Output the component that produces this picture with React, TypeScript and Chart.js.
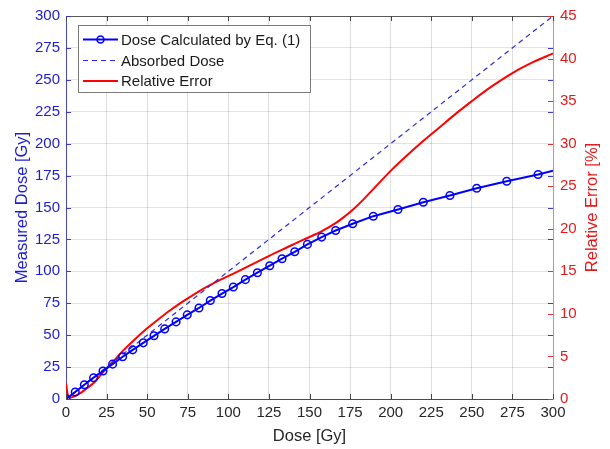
import React, { useEffect, useRef } from "react";
import { Chart, registerables } from "chart.js";

Chart.register(...registerables);

// Blue series: Dose calculated by Eq. (1)
const calcDoseX = [0, 5.7, 11.3, 17, 22.8, 28.7, 34.9, 41.1, 47.6, 54.2, 60.8, 67.8, 74.7, 81.9, 88.9, 96.1, 103.1, 110.5, 117.9, 125.5, 133.1, 140.9, 148.7, 157.5, 166.1, 176.6, 189.3, 204.5, 220.1, 236.5, 253, 271.5, 290.8, 300];
const calcDoseY = [0, 5.5, 11.2, 16.7, 21.9, 27.3, 33.1, 38.5, 44, 49.5, 54.9, 60.4, 65.9, 71.3, 77.1, 82.6, 87.7, 93.5, 98.9, 104.4, 109.9, 115.3, 121.1, 126.8, 132, 137.3, 143.2, 148.4, 154.1, 159.4, 165.1, 170.6, 175.8, 178.8];
const calcMarker = [1, 1, 1, 1, 1, 1, 1, 1, 1, 1, 1, 1, 1, 1, 1, 1, 1, 1, 1, 1, 1, 1, 1, 1, 1, 1, 1, 1, 1, 1, 1, 1, 1, 0];

// Dashed series: Absorbed dose
const absorbedX = [0, 300];
const absorbedY = [0, 300];

// Red series: Relative error [%]
const errX = [0, 1, 2.5, 5, 8.6, 12.5, 16.8, 23, 29, 35, 41.5, 50, 57.5, 64, 74, 84.5, 95, 105, 115, 125.5, 136, 146, 156.5, 166.8, 172, 177, 183, 190, 200, 210, 220, 230, 240, 250, 262, 275, 288, 300];
const errY = [1.9, 0.6, 0.15, 0.3, 0.67, 1.2, 1.84, 3.2, 4.4, 5.65, 6.85, 8.3, 9.45, 10.4, 11.7, 12.95, 14.0, 14.9, 15.85, 16.85, 17.8, 18.7, 19.6, 20.75, 21.5, 22.3, 23.4, 24.8, 26.8, 28.6, 30.3, 31.9, 33.5, 35.0, 36.7, 38.3, 39.6, 40.6];

const legendLabels = ["Dose Calculated by Eq. (1)", "Absorbed Dose", "Relative Error"];
const rightTitle = "Relative Error [%]";

const BLUE = "#0000ff";
const BLUE_TXT = "#1c1cd4";
const RED = "#ff0000";
const RED_TXT = "#e31a1a";
const FONT = "'Liberation Sans', Arial, sans-serif";

const boxPlugin = {
  id: "boxPlugin",
  afterDraw(chart: any) {
    const { ctx, chartArea: a, scales } = chart;
    const x = scales.x, y = scales.y, y1 = scales.y1;
    ctx.save();
    ctx.lineWidth = 1;
    ctx.strokeStyle = "#5a5a5a";
    ctx.beginPath();
    ctx.moveTo(a.left, a.top + 0.5);
    ctx.lineTo(a.right, a.top + 0.5);
    ctx.stroke();
    const tl = 5;
    x.ticks.forEach((t: any) => {
      const px = Math.round(x.getPixelForValue(t.value)) + 0.5;
      ctx.strokeStyle = "#444";
      ctx.beginPath();
      ctx.moveTo(px, a.bottom);
      ctx.lineTo(px, a.bottom - tl);
      ctx.moveTo(px, a.top);
      ctx.lineTo(px, a.top + tl);
      ctx.stroke();
    });
    y.ticks.forEach((t: any) => {
      const py = Math.round(y.getPixelForValue(t.value)) + 0.5;
      ctx.strokeStyle = "#3a3ad0";
      ctx.beginPath();
      ctx.moveTo(a.left, py);
      ctx.lineTo(a.left + tl, py);
      ctx.moveTo(a.right, py);
      ctx.lineTo(a.right - tl, py);
      ctx.stroke();
    });
    y1.ticks.forEach((t: any) => {
      const py = Math.round(y1.getPixelForValue(t.value)) + 0.5;
      ctx.strokeStyle = "#e03030";
      ctx.beginPath();
      ctx.moveTo(a.right, py);
      ctx.lineTo(a.right - tl, py);
      ctx.stroke();
    });

    ctx.save();
    ctx.translate(592, (a.top + a.bottom) / 2);
    ctx.rotate(-Math.PI / 2);
    ctx.font = `16.5px ${FONT}`;
    ctx.fillStyle = RED_TXT;
    ctx.textAlign = "center";
    ctx.textBaseline = "middle";
    ctx.fillText(rightTitle, 0, 0);
    ctx.restore();

    const lx = 78, ly = 25, lw = 232, lh = 67;
    ctx.fillStyle = "#ffffff";
    ctx.fillRect(lx, ly, lw, lh);
    ctx.strokeStyle = "#7a7a7a";
    ctx.lineWidth = 1;
    ctx.strokeRect(lx + 0.5, ly + 0.5, lw, lh);
    const rows = [39.5, 60.5, 81];
    const sx0 = 83, sx1 = 118, tx = 121;
    ctx.font = `15px ${FONT}`;
    ctx.textBaseline = "middle";
    ctx.textAlign = "left";
    ctx.strokeStyle = BLUE;
    ctx.lineWidth = 2;
    ctx.setLineDash([]);
    ctx.beginPath();
    ctx.moveTo(sx0, rows[0]);
    ctx.lineTo(sx1, rows[0]);
    ctx.stroke();
    ctx.lineWidth = 1.5;
    ctx.beginPath();
    ctx.arc((sx0 + sx1) / 2, rows[0], 3.5, 0, Math.PI * 2);
    ctx.stroke();
    ctx.strokeStyle = "#2b2bd9";
    ctx.lineWidth = 1.2;
    ctx.setLineDash([5, 4]);
    ctx.beginPath();
    ctx.moveTo(sx0, rows[1]);
    ctx.lineTo(sx1, rows[1]);
    ctx.stroke();
    ctx.setLineDash([]);
    ctx.strokeStyle = RED;
    ctx.lineWidth = 2;
    ctx.beginPath();
    ctx.moveTo(sx0, rows[2]);
    ctx.lineTo(sx1, rows[2]);
    ctx.stroke();
    ctx.fillStyle = "#1a1a1a";
    legendLabels.forEach((l, i) => ctx.fillText(l, tx, rows[i] + 1));
    ctx.restore();
  },
};

export default function App() {
  const ref = useRef<HTMLCanvasElement>(null);
  useEffect(() => {
    if (!ref.current) return;
    const chart = new Chart(ref.current, {
      type: "line",
      data: {
        datasets: [
          {
            label: legendLabels[0],
            data: calcDoseX.map((x, i) => ({ x, y: calcDoseY[i] })),
            yAxisID: "y",
            borderColor: BLUE,
            borderWidth: 2,
            pointRadius: calcMarker.map((m) => (m ? 3.8 : 0)),
            pointStyle: "circle",
            pointBackgroundColor: "rgba(0,0,0,0)",
            pointBorderColor: BLUE,
            pointBorderWidth: 1.5,
            tension: 0,
          },
          {
            label: legendLabels[1],
            data: absorbedX.map((x, i) => ({ x, y: absorbedY[i] })),
            yAxisID: "y",
            borderColor: "#2b2bd9",
            borderWidth: 1.2,
            borderDash: [5, 4],
            pointRadius: 0,
          },
          {
            label: legendLabels[2],
            data: errX.map((x, i) => ({ x, y: errY[i] })),
            yAxisID: "y1",
            borderColor: RED,
            borderWidth: 2,
            pointRadius: 0,
            cubicInterpolationMode: "monotone",
          },
        ],
      },
      options: {
        animation: false,
        responsive: false,
        layout: { padding: { top: 15, left: 0, right: 0, bottom: 0 } },
        plugins: { legend: { display: false }, tooltip: { enabled: false } },
        scales: {
          x: {
            type: "linear",
            min: 0,
            max: 300,
            ticks: { stepSize: 25, color: "#262626", font: { size: 15, family: FONT }, padding: 5, maxRotation: 0 },
            grid: { color: "rgba(0,0,0,0.13)", drawTicks: false },
            border: { color: "#4a4a4a", width: 1 },
            title: { display: true, text: "Dose [Gy]", color: "#262626", font: { size: 16.5, family: FONT }, padding: { top: 0, bottom: 3 } },
            afterFit: (s: any) => { s.height = 50; },
          },
          y: {
            type: "linear",
            position: "left",
            min: 0,
            max: 300,
            ticks: { stepSize: 25, color: BLUE_TXT, font: { size: 15, family: FONT }, padding: 6 },
            grid: { color: "rgba(0,0,0,0.11)", drawTicks: false },
            border: { color: "#4848c8", width: 1 },
            title: { display: true, text: "Measured Dose [Gy]", color: BLUE_TXT, font: { size: 16.5, family: FONT }, padding: { top: 13, bottom: 0 } },
            afterFit: (s: any) => { s.width = 66; },
          },
          y1: {
            type: "linear",
            position: "right",
            min: 0,
            max: 45,
            ticks: { stepSize: 5, color: RED_TXT, font: { size: 15, family: FONT }, padding: 7 },
            grid: { display: false, drawTicks: false },
            border: { color: "#e08888", width: 1 },
            title: { display: false },
            afterFit: (s: any) => { s.width = 57; },
          },
        },
      },
      plugins: [boxPlugin],
    } as any);
    return () => chart.destroy();
  }, []);
  return (
    <div style={{ position: "fixed", left: 0, top: 0, width: 610, height: 449, background: "#fff" }}>
      <canvas ref={ref} width={610} height={449} style={{ display: "block" }} />
    </div>
  );
}
